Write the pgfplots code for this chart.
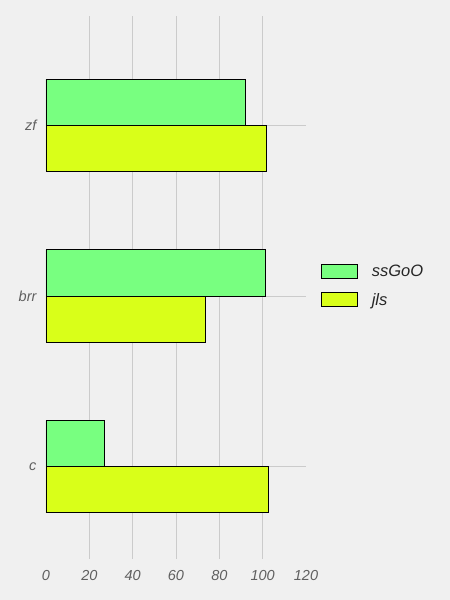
\documentclass[border=0pt]{standalone}
\usepackage{pgfplots}
\pgfplotsset{compat=1.18}
\usepackage{fontspec}
\setmainfont{Liberation Sans}
\definecolor{bg}{HTML}{F0F0F0}
\definecolor{gridc}{HTML}{CBCBCB}
\definecolor{tickc}{HTML}{606060}
\definecolor{sgreen}{RGB}{120,255,128}
\definecolor{jyellow}{RGB}{217,255,25}

\begin{document}
\begin{tikzpicture}
  \fill[bg] (0pt,0pt) rectangle (450pt,600pt);
  \path[use as bounding box] (0pt,0pt) rectangle (450pt,600pt);
  \begin{axis}[
      at={(46pt,41pt)}, anchor=south west,
      scale only axis, width=260pt, height=543pt,
      xbar, bar width=0.27,
      xmin=0, xmax=120, ymin=-0.54, ymax=2.64,
      xtick={0,20,...,120},
      ytick={0,1,2}, yticklabels={c,brr,zf},
      axis line style={draw=none}, major tick length=0pt,
      ymajorgrids,
      extra x ticks={20,40,60,80,100}, extra x tick labels={},
      extra x tick style={grid=major},
      grid style={color=gridc, line width=1pt},
      /pgf/number format/assume math mode=true,
      tick label style={font=\fontsize{14.5}{16}\selectfont\itshape, text=tickc},
      xticklabel style={yshift=-8pt},
      yticklabel style={xshift=-6pt},
      legend cell align=left,
      legend style={draw=none, fill=none, at={(1.045,0.503)}, anchor=west,
        font=\fontsize{16.5}{18}\selectfont\itshape, text=black!85,
        row sep=11pt, column sep=12pt},
      legend image code/.code={\draw[#1] (0pt,-7pt) rectangle (36pt,7pt);},
    ]
    \addplot[fill=sgreen, draw=black, line width=0.9pt, bar shift=0.135]
      coordinates {(26.9,0) (101.5,1) (92.0,2)};
    \addlegendentry{ssGoO}
    \addplot[fill=jyellow, draw=black, line width=0.9pt, bar shift=-0.135]
      coordinates {(102.6,0) (73.8,1) (101.6,2)};
    \addlegendentry{jls}
  \end{axis}
\end{tikzpicture}
\end{document}
